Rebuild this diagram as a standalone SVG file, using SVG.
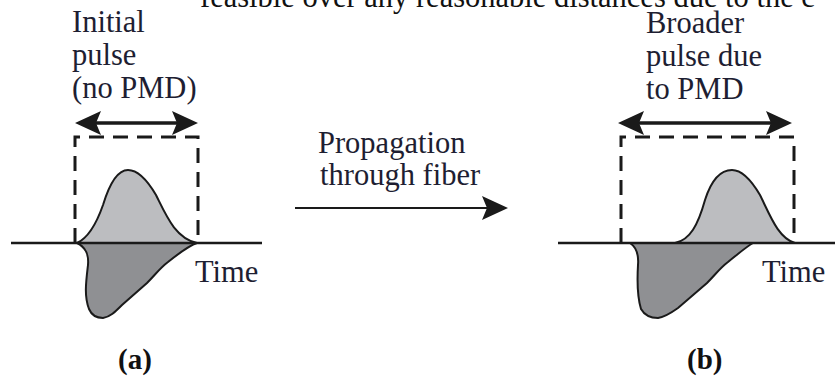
<svg xmlns="http://www.w3.org/2000/svg" width="835" height="381" viewBox="0 0 835 381">
<style>
text{font-family:'Liberation Serif','DejaVu Serif','Times New Roman',Times,serif;font-size:30.5px;fill:#1e1e32}
.top{fill:#111}
.lab{font-weight:bold;font-size:29px;fill:#111}
.axis{stroke:#1a1a1a;stroke-width:2.6;fill:none}
.dash{stroke:#1a1a1a;stroke-width:3;fill:none;stroke-dasharray:15 9}
.up{fill:#bcbdc0;stroke:#1a1a1a;stroke-width:2}
.lo{fill:#8f9093;stroke:#1a1a1a;stroke-width:2}
.shaft{stroke:#1a1a1a;stroke-width:3.5;fill:none}
.head{fill:#1a1a1a}
</style>
<g font-family="Liberation Serif, DejaVu Serif, serif">
<text class="top" x="200" y="7">feasible over any reasonable distances due to the c</text>

<g id="panel-a">
  <text x="72" y="32">Initial</text>
  <text x="72" y="65">pulse</text>
  <text x="72" y="98">(no PMD)</text>
  <g id="width-arrow-a">
    <line class="shaft" x1="92" y1="123" x2="182" y2="123"/>
    <polygon class="head" points="75,123 101,111 96,123 101,135"/>
    <polygon class="head" points="198,123 172,111 177,123 172,135"/>
  </g>
  <path class="dash" d="M75,243 V137 H198 V243"/>
  <path class="up" d="M77,243 C88,238 96,225 103,205 C110,182 118,170 128,170 C137,170 146,178 156,195 C166,215 175,238 197,243 Z"/>
  <path class="lo" d="M77,243 C85,247 89,253 88,265 C86,282 84,296 89,309 C92,316 97,318 103,318 C110,317 115,312 122,305 L147,283 C155,275 160,268 168,262 C178,254 188,246 197,243 Z"/>
  <line class="axis" x1="11" y1="243" x2="262" y2="243"/>
  <text x="195" y="282">Time</text>
  <text class="lab" x="118" y="369">(a)</text>
</g>

<g id="panel-b">
  <text x="646" y="33">Broader</text>
  <text x="646" y="66">pulse due</text>
  <text x="646" y="99">to PMD</text>
  <g id="width-arrow-b">
    <line class="shaft" x1="635" y1="123" x2="775" y2="123"/>
    <polygon class="head" points="618,123 644,111 639,123 644,135"/>
    <polygon class="head" points="792,123 766,111 771,123 766,135"/>
  </g>
  <path class="dash" d="M621,243 V137 H794 V243"/>
  <path class="up" d="M675,243 C690,240 698,225 705,200 C712,178 722,170 732,170 C741,170 750,178 760,195 C770,215 778,238 795,243 Z"/>
  <path class="lo" d="M630,243 C636,247 639,253 638,265 C637,282 637,296 641,309 C645,316 651,318 658,318 C665,317 671,313 678,308 L707,283 C715,275 720,268 728,262 C738,254 746,247 753,243 Z"/>
  <line class="axis" x1="558" y1="243" x2="835" y2="243"/>
  <text x="762" y="282">Time</text>
  <text class="lab" x="687" y="369">(b)</text>
</g>

<g id="connectors">
  <text x="318" y="153">Propagation</text>
  <text x="320" y="185">through fiber</text>
  <line x1="295" y1="208" x2="490" y2="208" stroke="#1a1a1a" stroke-width="2.2"/>
  <polygon class="head" points="508,208 482,196 487,208 482,220"/>
</g>
</g>
</svg>
